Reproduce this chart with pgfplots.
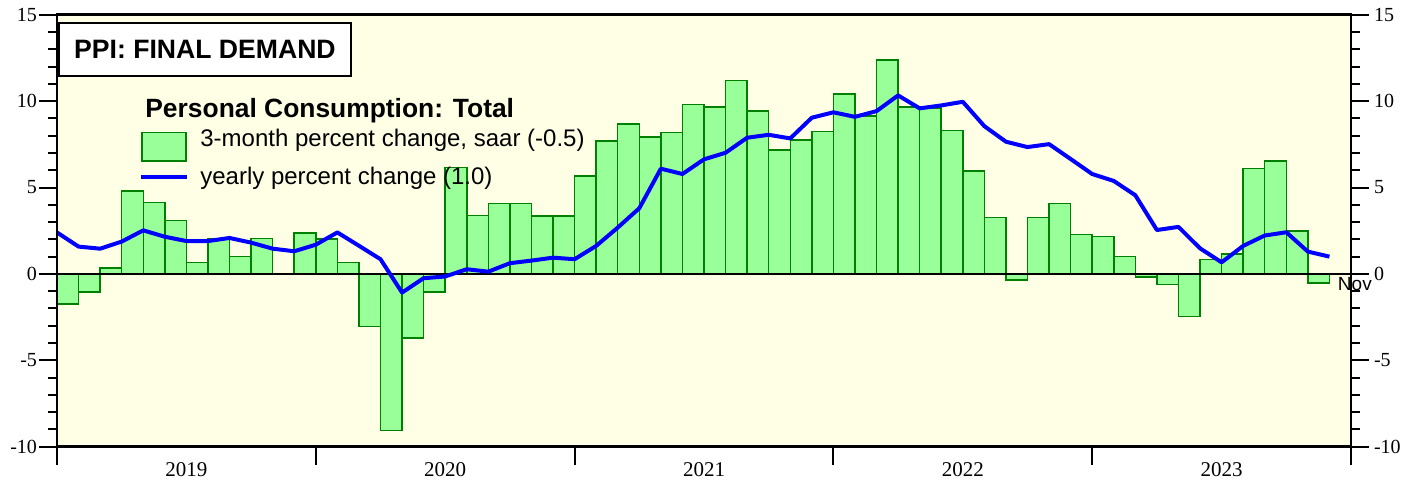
\documentclass[border=0pt]{standalone}
\usepackage{fontspec}
\setmainfont{Liberation Serif}
\setsansfont{Liberation Sans}
\usepackage{pgfplots}
\usepackage{pgfplotstable}
\pgfplotsset{compat=1.18}
\definecolor{bgyellow}{HTML}{FFFFE6}
\definecolor{barfill}{HTML}{99FF99}
\definecolor{baredge}{HTML}{008000}
\definecolor{lineblue}{HTML}{0000FF}

% 3-month percent change, saar (bars centred on each month)
\pgfplotstableread{
x y
0.5 -1.73
1.5 -1.04
2.5 0.35
3.5 4.80
4.5 4.12
5.5 3.08
6.5 0.66
7.5 2.04
8.5 1.00
9.5 2.04
10.5 0.00
11.5 2.37
12.5 2.02
13.5 0.66
14.5 -3.04
15.5 -9.06
16.5 -3.72
17.5 -1.04
18.5 6.17
19.5 3.39
20.5 4.07
21.5 4.07
22.5 3.35
23.5 3.35
24.5 5.68
25.5 7.69
26.5 8.67
27.5 7.92
28.5 8.19
29.5 9.79
30.5 9.67
31.5 11.19
32.5 9.44
33.5 7.17
34.5 7.76
35.5 8.23
36.5 10.40
37.5 9.13
38.5 12.39
39.5 9.65
40.5 9.61
41.5 8.29
42.5 5.95
43.5 3.26
44.5 -0.35
45.5 3.26
46.5 4.07
47.5 2.27
48.5 2.16
49.5 1.00
50.5 -0.19
51.5 -0.60
52.5 -2.47
53.5 0.83
54.5 1.16
55.5 6.11
56.5 6.53
57.5 2.49
58.5 -0.54
}\threemonth

% yearly percent change
\pgfplotstableread{
x y
0 2.40
1 1.58
2 1.46
3 1.87
4 2.52
5 2.15
6 1.90
7 1.90
8 2.08
9 1.81
10 1.46
11 1.31
12 1.69
13 2.40
14 1.63
15 0.85
16 -1.08
17 -0.25
18 -0.15
19 0.27
20 0.13
21 0.62
22 0.77
23 0.94
24 0.85
25 1.62
26 2.68
27 3.80
28 6.09
29 5.78
30 6.63
31 7.01
32 7.88
33 8.05
34 7.84
35 9.04
36 9.35
37 9.09
38 9.42
39 10.33
40 9.58
41 9.75
42 9.96
43 8.55
44 7.65
45 7.34
46 7.51
47 6.65
48 5.78
49 5.38
50 4.55
51 2.54
52 2.72
53 1.48
54 0.67
55 1.62
56 2.22
57 2.41
58 1.29
59 1.00
}\yearly

\pgfplotsset{
  chartframe/.style={
    at={(0,0)}, anchor=south west,
    scale only axis, width=647pt, height=216pt,
    xmin=0, xmax=60, ymin=-10, ymax=15,
    axis line style={line width=1.3pt},
    tick align=outside,
    major tick length=9pt, minor tick length=4.5pt,
    every tick/.style={black, line width=1pt},
    ytick={-10,-5,...,15}, minor ytick={-9,...,14},
    yticklabels={-10,-5,0,5,10,15},
    ticklabel style={font=\fontsize{10}{12}\selectfont},
  },
}

\begin{document}
\begin{tikzpicture}
\begin{axis}[
  chartframe, clip=false,
  axis background/.style={fill=bgyellow},
  ytick pos=left,
  yticklabel style={xshift=2.5pt},
  xtick={6,18,30,42,54}, xticklabels={2019,2020,2021,2022,2023},
  xtick style={draw=none}, xtick pos=bottom,
  xticklabel style={font=\fontsize{10.5}{12}\selectfont, yshift=4.5pt},
]
\addplot[ybar, bar width=1, fill=barfill, draw=baredge, line width=0.75pt] table[x=x, y=y] {\threemonth};
\addplot[black, line width=1pt] coordinates {(0,0) (60,0)};
\addplot[lineblue, line width=2pt, mark=none, line join=round] table[x=x, y=y] {\yearly};
% title box and legend
\node[draw=black, line width=1pt, fill=white, minimum width=146pt, minimum height=26.5pt,
  inner sep=0pt, font=\sffamily\bfseries\fontsize{13.3}{15}\selectfont]
  at (axis cs:6.86,13.0) {PPI: FINAL DEMAND};
\node[anchor=base west, inner sep=0pt, font=\sffamily\bfseries\fontsize{13.2}{15}\selectfont]
  at (axis cs:4.08,9.03) {Personal Consumption: Total};
\draw[fill=barfill, draw=baredge, line width=0.75pt] (axis cs:3.94,8.18) rectangle (axis cs:5.98,6.54);
\node[anchor=base west, inner sep=0pt, font=\sffamily\fontsize{12}{14}\selectfont]
  at (axis cs:6.63,7.35) {3-month percent change, saar (-0.5)};
\draw[lineblue, line width=2pt] (axis cs:3.9,5.58) -- (axis cs:6.03,5.58);
\node[anchor=base west, inner sep=0pt, font=\sffamily\fontsize{12}{14}\selectfont]
  at (axis cs:6.63,5.15) {yearly percent change (1.0)};
\node[anchor=north, inner sep=0pt, font=\sffamily\fontsize{9.5}{11}\selectfont] at (axis cs:60.18,-0.16) {Nov};
\end{axis}
\begin{axis}[
  chartframe,
  ytick pos=right, yticklabel pos=right,
  yticklabel style={xshift=-1pt},
  xtick={0,12,...,60}, xticklabels={}, xtick pos=bottom,
]
\addplot[draw=none] coordinates {(0,0) (60,0)};
\end{axis}
\pgfresetboundingbox
\useasboundingbox (-28.5pt,-18.15pt) rectangle (681pt,223.35pt);
\end{tikzpicture}
\end{document}
